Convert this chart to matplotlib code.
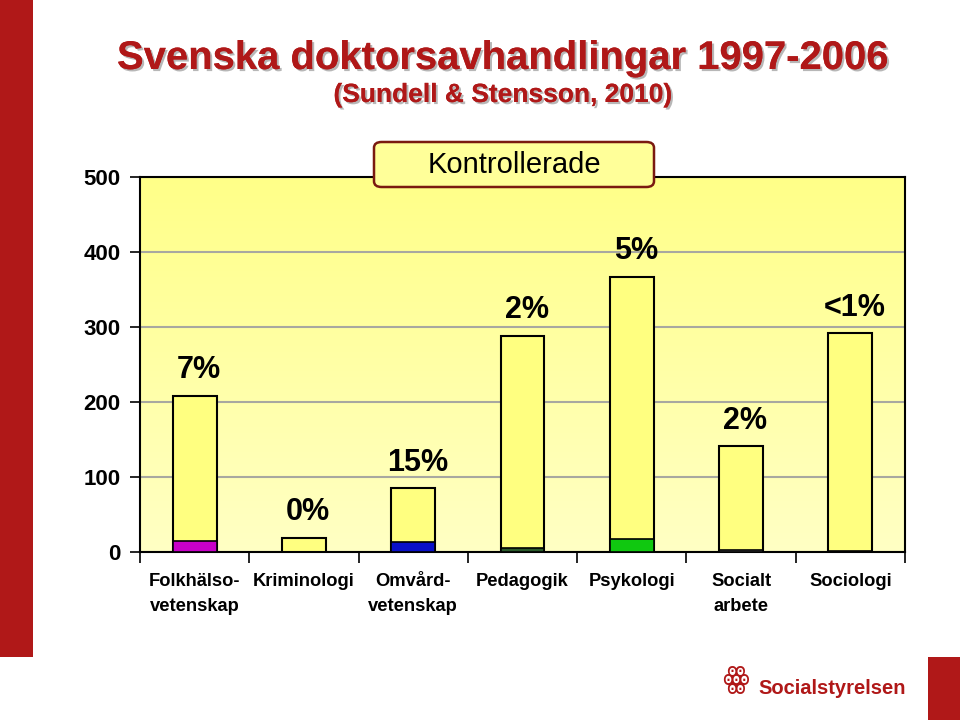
import numpy as np
import matplotlib
matplotlib.use("Agg")
from matplotlib import pyplot as plt
from matplotlib.patches import Rectangle, FancyBboxPatch
from matplotlib import patheffects as pe

# Data
categories = ["Folkhälso-\nvetenskap", "Kriminologi", "Omvård-\nvetenskap",
              "Pedagogik", "Psykologi", "Socialt\narbete", "Sociologi"]
totals = [208, 19, 85, 288, 367, 141, 292]
controlled = [15, 0, 13, 5, 17, 3, 1]
pct_labels = ["7%", "0%", "15%", "2%", "5%", "2%", "<1%"]
ctrl_colors = ["#c800c8", "#e0e040", "#0a10c8", "#2a5a2a", "#10c810", "#808080", "#202020"]

plt.rcParams['font.family'] = ['Liberation Sans', 'DejaVu Sans']
red = "#b01818"

fig = plt.figure(figsize=(9.6, 7.2), dpi=100)
fig.patch.set_facecolor("white")

# red strips (slide decoration)
fig.add_artist(Rectangle((0, 1 - 657 / 720), 33 / 960, 657 / 720,
                         transform=fig.transFigure, color=red, lw=0))
fig.add_artist(Rectangle((928 / 960, 0), 32 / 960, 63 / 720,
                         transform=fig.transFigure, color=red, lw=0))

ax = fig.add_axes([140 / 960, 1 - 552 / 720, 765 / 960, 375 / 720])

# gradient background
grad = np.linspace(0, 1, 256).reshape(-1, 1)
cmap = matplotlib.colors.LinearSegmentedColormap.from_list("bg", ["#ffffc4", "#ffff88"])
ax.imshow(grad, aspect="auto", cmap=cmap, origin="lower",
          extent=[0, 1, 0, 1], transform=ax.transAxes, zorder=0)

x = np.arange(len(categories))
ax.bar(x, totals, width=0.4, color="#ffff80", edgecolor="black", lw=1.5, zorder=3)
for i in range(len(x)):
    if controlled[i] > 0:
        ax.bar(x[i], controlled[i], width=0.4, color=ctrl_colors[i],
               edgecolor="black", lw=1.2, zorder=4)
    ax.text(x[i] + 0.04, totals[i] + 14, pct_labels[i], ha="center", va="bottom",
            fontsize=22, fontweight="bold", zorder=5)

ax.set_xlim(-0.5, len(categories) - 0.5)
ax.set_ylim(0, 500)
ax.set_yticks([0, 100, 200, 300, 400, 500])
ax.yaxis.grid(True, color="#a8a8a0", lw=1.5, zorder=1)
ax.set_axisbelow(True)
ax.tick_params(axis="y", length=7, width=1.2, labelsize=16, pad=7)
for lab in ax.get_yticklabels():
    lab.set_fontweight("bold")

ax.set_xticks(x)
ax.set_xticklabels(categories, fontsize=13.2, fontweight="bold", linespacing=1.6)
ax.set_xticks(np.arange(len(categories) + 1) - 0.5, minor=True)
ax.tick_params(axis="x", which="major", length=0, pad=15)
ax.tick_params(axis="x", which="minor", length=8, width=1.2)

for s in ax.spines.values():
    s.set_linewidth(1.5)
    s.set_color("black")

# Kontrollerade box
box = FancyBboxPatch((374 / 960, 1 - 187 / 720), 280 / 960, 45 / 720,
                     boxstyle="round,pad=0,rounding_size=0.008",
                     transform=fig.transFigure, facecolor="#ffff99",
                     edgecolor="#7a1a10", lw=1.8, zorder=10)
fig.add_artist(box)
fig.text(514 / 960, 1 - 165 / 720, "Kontrollerade", ha="center", va="center",
         fontsize=21, zorder=11)

# titles
shadow = [pe.withSimplePatchShadow(offset=(1.5, -1.5), shadow_rgbFace="#888888", alpha=0.6),
          pe.Normal()]
fig.text(503 / 960, 1 - 58 / 720, "Svenska doktorsavhandlingar 1997-2006",
         ha="center", va="center", fontsize=28.8, fontweight="bold", color=red,
         path_effects=shadow)
fig.text(503 / 960, 1 - 95 / 720, "(Sundell & Stensson, 2010)",
         ha="center", va="center", fontsize=19, fontweight="bold", color=red,
         path_effects=shadow)

# logo
fig.text(736 / 960, 1 - 680 / 720, "ꙮ", ha="center", va="center",
         fontsize=22, color=red, family=["DejaVu Sans"])
fig.text(758 / 960, 1 - 688 / 720, "Socialstyrelsen", ha="left", va="center",
         fontsize=14.5, fontweight="bold", color=red)

fig.savefig("out.png", dpi=100)
